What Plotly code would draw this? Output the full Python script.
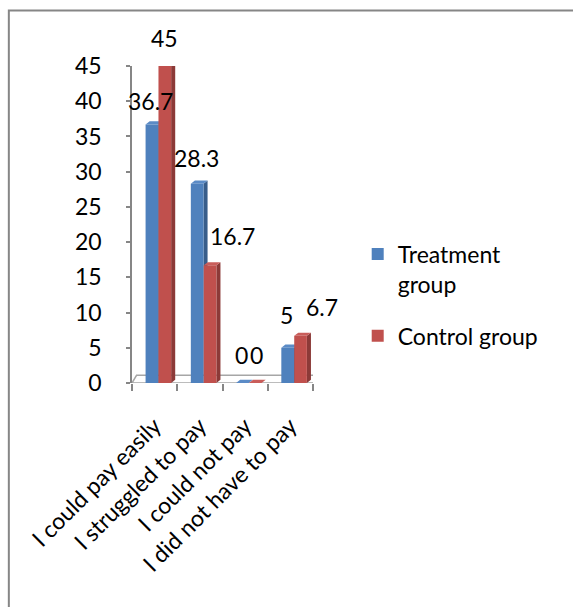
import plotly.graph_objects as go

# Survey answers and the share (%) of each group giving them
categories = ["I could pay easily", "I struggled to pay", "I could not pay", "I did not have to pay"]
treatment = [36.7, 28.3, 0, 5]
control = [45, 16.7, 0, 6.7]
series_names = ["Treatment<br>group", "Control group"]

# Styling
W, H = 573, 607
L, R, T, B = 132, 259.5, 66, 224
FONT = "Lato"
FS = 23
BLUE, BLUE_SIDE, BLUE_TOP = "#4F81BD", "#385D8A", "#5B8BC6"
RED, RED_SIDE, RED_TOP = "#C0504D", "#8C3A38", "#C95D5A"
AXIS = "#868686"

bar_w = 0.28
offsets = [-0.06, 0.225]          # horizontal placement of each series inside its category
depth_x, depth_y = 0.09, 0.45      # pseudo-3D extrusion (x units, y units)

# label nudges (pixels) per series
label_dx = [[-1, -1, -1, -1], [0, 22, 1, 21]]
label_dy = [[23, 26, 28, 33], [28, 29, 28, 29]]

fig = go.Figure()
shapes = []
annotations = []

# floor of the pseudo-3D plot
shapes.append(dict(
    type="path", xref="x", yref="y", layer="below",
    path=f"M -0.5,0 L 3.5,0 L {3.5 + 0.3},1.1 L {-0.5 + 0.1},1.1 Z",
    fillcolor="white", line=dict(color="#A6A6A6", width=1.5),
))

series = [(treatment, BLUE, BLUE_SIDE, BLUE_TOP), (control, RED, RED_SIDE, RED_TOP)]
for s, (vals, col, side, top) in enumerate(series):
    xs = [i + offsets[s] for i in range(len(categories))]
    fig.add_trace(go.Bar(
        x=xs, y=vals, width=bar_w, name=series_names[s],
        marker=dict(color=col, line=dict(width=0)),
        legendgroup=f"g{s}",
    ))
    for i, (xc, v) in enumerate(zip(xs, vals)):
        x0, x1 = xc - bar_w / 2, xc + bar_w / 2
        # right side face
        shapes.append(dict(
            type="path", xref="x", yref="y", layer="below",
            path=f"M {x1},0 L {x1 + depth_x},{depth_y} L {x1 + depth_x},{v + depth_y} L {x1},{v} Z",
            fillcolor=side, line=dict(width=0),
        ))
        # top face
        shapes.append(dict(
            type="path", xref="x", yref="y", layer="below",
            path=f"M {x0},{v} L {x0 + depth_x},{v + depth_y} L {x1 + depth_x},{v + depth_y} L {x1},{v} Z",
            fillcolor=top, line=dict(width=0),
        ))
        annotations.append(dict(
            x=xc, y=v, xref="x", yref="y", text=f"{v:g}", showarrow=False,
            xshift=label_dx[s][i], yshift=label_dy[s][i],
            font=dict(family=FONT, size=FS, color="black"),
        ))

# outer frame of the chart
pw, ph = W - L - R, H - T - B
fx0 = (8.5 - L) / pw
fy1 = (H - B - 10.5) / ph
shapes.append(dict(
    type="rect", xref="paper", yref="paper",
    x0=fx0, x1=(W + 20 - L) / pw, y0=-(B + 20) / ph, y1=fy1,
    line=dict(color=AXIS, width=2), fillcolor="rgba(0,0,0,0)", layer="below",
))

fig.update_layout(
    width=W, height=H,
    margin=dict(l=L, r=R, t=T, b=B, pad=0),
    paper_bgcolor="white", plot_bgcolor="white",
    barmode="overlay",
    showlegend=True,
    legend=dict(
        x=1.247, y=0.475, xanchor="left", yanchor="top",
        font=dict(family=FONT, size=FS, color="black"),
        valign="top", tracegroupgap=19, traceorder="grouped",
        bgcolor="rgba(0,0,0,0)",
    ),
    shapes=shapes,
    annotations=annotations,
    font=dict(family=FONT, size=FS, color="black"),
)

fig.update_xaxes(
    range=[-0.5, 3.5], tickmode="array",
    tickvals=list(range(len(categories))), ticktext=categories,
    tickangle=-45, ticks="", showgrid=False, zeroline=False,
    showline=False, tickfont=dict(family=FONT, size=FS, color="black"),
    ticklabelstandoff=24,
    minor=dict(tickmode="array", tickvals=[-0.5, 0.5, 1.5, 2.5, 3.5],
               ticks="outside", ticklen=7, tickcolor=AXIS, tickwidth=1.5, showgrid=False),
)
fig.update_yaxes(
    range=[0, 45], tickmode="array", tickvals=list(range(0, 46, 5)),
    ticks="outside", ticklen=4, tickcolor=AXIS, tickwidth=1.5,
    showline=True, linecolor=AXIS, linewidth=1.5,
    showgrid=False, zeroline=False, ticklabelstandoff=20,
    tickfont=dict(family=FONT, size=FS, color="black"),
)

fig.write_html("out.html")
